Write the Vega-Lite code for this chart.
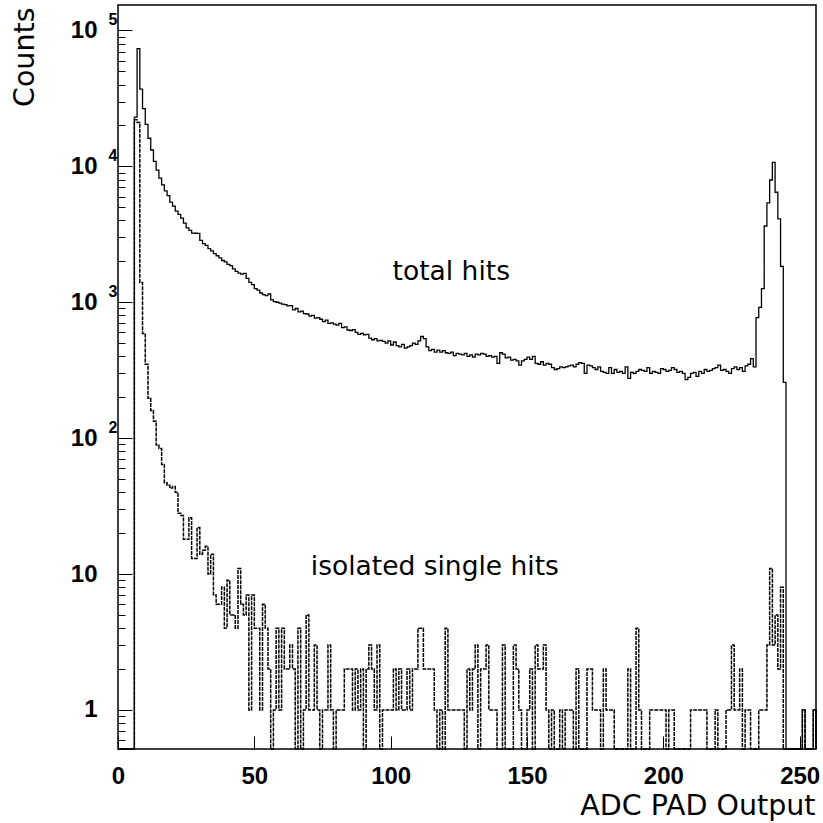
{
  "$schema": "https://vega.github.io/schema/vega-lite/v6.json",
  "width": 698,
  "height": 744,
  "autosize": "none",
  "padding": {"left": 118, "top": 5, "right": 7, "bottom": 74},
  "background": "white",
  "config": {"view": {"stroke": "black", "strokeWidth": 1.5}},
  "resolve": {"axis": {"y": "independent"}},
  "datasets": {
    "total": [
      {"bin":0,"count":0},{"bin":1,"count":0},{"bin":2,"count":0},{"bin":3,"count":0},{"bin":4,"count":0},{"bin":5,"count":0},
      {"bin":6,"count":23000},{"bin":7,"count":73500},{"bin":8,"count":37000},{"bin":9,"count":26600},{"bin":10,"count":20400},
      {"bin":11,"count":16100},{"bin":12,"count":13200},{"bin":13,"count":10900},{"bin":14,"count":9400},{"bin":15,"count":8200},
      {"bin":16,"count":7300},{"bin":17,"count":6600},{"bin":18,"count":6100},{"bin":19,"count":5450},{"bin":20,"count":5100},
      {"bin":21,"count":4680},{"bin":22,"count":4430},{"bin":23,"count":4160},{"bin":24,"count":3820},{"bin":25,"count":3530},
      {"bin":26,"count":3380},{"bin":27,"count":3230},{"bin":28,"count":3220},{"bin":29,"count":3210},{"bin":30,"count":2850},
      {"bin":31,"count":2700},{"bin":32,"count":2620},{"bin":33,"count":2480},{"bin":34,"count":2390},{"bin":35,"count":2280},
      {"bin":36,"count":2200},{"bin":37,"count":2120},{"bin":38,"count":2030},{"bin":39,"count":1980},{"bin":40,"count":1900},
      {"bin":41,"count":1860},{"bin":42,"count":1760},{"bin":43,"count":1690},{"bin":44,"count":1640},{"bin":45,"count":1610},
      {"bin":46,"count":1630},{"bin":47,"count":1500},{"bin":48,"count":1400},{"bin":49,"count":1350},{"bin":50,"count":1260},
      {"bin":51,"count":1230},{"bin":52,"count":1170},{"bin":53,"count":1140},{"bin":54,"count":1120},{"bin":55,"count":1150},
      {"bin":56,"count":1040},{"bin":57,"count":1010},{"bin":58,"count":1000},{"bin":59,"count":985},{"bin":60,"count":970},
      {"bin":61,"count":960},{"bin":62,"count":940},{"bin":63,"count":945},{"bin":64,"count":880},{"bin":65,"count":900},
      {"bin":66,"count":850},{"bin":67,"count":860},{"bin":68,"count":825},{"bin":69,"count":820},{"bin":70,"count":790},
      {"bin":71,"count":800},{"bin":72,"count":765},{"bin":73,"count":770},{"bin":74,"count":750},{"bin":75,"count":720},
      {"bin":76,"count":740},{"bin":77,"count":700},{"bin":78,"count":705},{"bin":79,"count":690},{"bin":80,"count":680},
      {"bin":81,"count":700},{"bin":82,"count":650},{"bin":83,"count":660},{"bin":84,"count":625},{"bin":85,"count":620},
      {"bin":86,"count":630},{"bin":87,"count":600},{"bin":88,"count":580},{"bin":89,"count":590},{"bin":90,"count":575},
      {"bin":91,"count":580},{"bin":92,"count":545},{"bin":93,"count":530},{"bin":94,"count":540},{"bin":95,"count":520},
      {"bin":96,"count":525},{"bin":97,"count":515},{"bin":98,"count":500},{"bin":99,"count":520},{"bin":100,"count":485},
      {"bin":101,"count":510},{"bin":102,"count":480},{"bin":103,"count":470},{"bin":104,"count":490},{"bin":105,"count":460},
      {"bin":106,"count":470},{"bin":107,"count":480},{"bin":108,"count":500},{"bin":109,"count":490},{"bin":110,"count":520},
      {"bin":111,"count":560},{"bin":112,"count":540},{"bin":113,"count":470},{"bin":114,"count":440},{"bin":115,"count":450},
      {"bin":116,"count":430},{"bin":117,"count":445},{"bin":118,"count":430},{"bin":119,"count":440},{"bin":120,"count":425},
      {"bin":121,"count":420},{"bin":122,"count":430},{"bin":123,"count":405},{"bin":124,"count":420},{"bin":125,"count":415},
      {"bin":126,"count":410},{"bin":127,"count":420},{"bin":128,"count":400},{"bin":129,"count":410},{"bin":130,"count":395},
      {"bin":131,"count":415},{"bin":132,"count":410},{"bin":133,"count":420},{"bin":134,"count":415},{"bin":135,"count":400},
      {"bin":136,"count":405},{"bin":137,"count":395},{"bin":138,"count":400},{"bin":139,"count":355},{"bin":140,"count":425},
      {"bin":141,"count":415},{"bin":142,"count":390},{"bin":143,"count":395},{"bin":144,"count":375},{"bin":145,"count":380},
      {"bin":146,"count":370},{"bin":147,"count":345},{"bin":148,"count":370},{"bin":149,"count":380},{"bin":150,"count":395},
      {"bin":151,"count":380},{"bin":152,"count":400},{"bin":153,"count":355},{"bin":154,"count":350},{"bin":155,"count":365},
      {"bin":156,"count":345},{"bin":157,"count":355},{"bin":158,"count":350},{"bin":159,"count":330},{"bin":160,"count":320},
      {"bin":161,"count":325},{"bin":162,"count":335},{"bin":163,"count":330},{"bin":164,"count":335},{"bin":165,"count":340},
      {"bin":166,"count":345},{"bin":167,"count":335},{"bin":168,"count":350},{"bin":169,"count":360},{"bin":170,"count":355},
      {"bin":171,"count":300},{"bin":172,"count":345},{"bin":173,"count":340},{"bin":174,"count":330},{"bin":175,"count":320},
      {"bin":176,"count":335},{"bin":177,"count":310},{"bin":178,"count":305},{"bin":179,"count":300},{"bin":180,"count":330},
      {"bin":181,"count":300},{"bin":182,"count":320},{"bin":183,"count":305},{"bin":184,"count":310},{"bin":185,"count":300},
      {"bin":186,"count":335},{"bin":187,"count":275},{"bin":188,"count":305},{"bin":189,"count":300},{"bin":190,"count":310},
      {"bin":191,"count":320},{"bin":192,"count":315},{"bin":193,"count":310},{"bin":194,"count":330},{"bin":195,"count":300},
      {"bin":196,"count":310},{"bin":197,"count":305},{"bin":198,"count":300},{"bin":199,"count":325},{"bin":200,"count":320},
      {"bin":201,"count":310},{"bin":202,"count":315},{"bin":203,"count":330},{"bin":204,"count":320},{"bin":205,"count":305},
      {"bin":206,"count":310},{"bin":207,"count":300},{"bin":208,"count":270},{"bin":209,"count":280},{"bin":210,"count":300},
      {"bin":211,"count":305},{"bin":212,"count":285},{"bin":213,"count":310},{"bin":214,"count":300},{"bin":215,"count":320},
      {"bin":216,"count":310},{"bin":217,"count":315},{"bin":218,"count":325},{"bin":219,"count":330},{"bin":220,"count":345},
      {"bin":221,"count":315},{"bin":222,"count":320},{"bin":223,"count":310},{"bin":224,"count":300},{"bin":225,"count":325},
      {"bin":226,"count":335},{"bin":227,"count":320},{"bin":228,"count":330},{"bin":229,"count":310},{"bin":230,"count":340},
      {"bin":231,"count":350},{"bin":232,"count":385},{"bin":233,"count":335},{"bin":234,"count":770},{"bin":235,"count":916},
      {"bin":236,"count":1260},{"bin":237,"count":3640},{"bin":238,"count":5380},{"bin":239,"count":7940},{"bin":240,"count":10700},
      {"bin":241,"count":6450},{"bin":242,"count":4110},{"bin":243,"count":1840},{"bin":244,"count":257},{"bin":245,"count":0},
      {"bin":246,"count":0},{"bin":247,"count":0},{"bin":248,"count":0},{"bin":249,"count":0},{"bin":250,"count":0},
      {"bin":251,"count":1},{"bin":252,"count":0},{"bin":253,"count":0},{"bin":254,"count":0},{"bin":255,"count":1},
      {"bin":256,"count":0}
    ],
    "single": [
      {"bin":0,"count":0},{"bin":1,"count":0},{"bin":2,"count":0},{"bin":3,"count":0},{"bin":4,"count":0},{"bin":5,"count":0},
      {"bin":6,"count":22000},{"bin":7,"count":21000},{"bin":8,"count":1400},{"bin":9,"count":590},{"bin":10,"count":350},
      {"bin":11,"count":197},{"bin":12,"count":160},{"bin":13,"count":133},{"bin":14,"count":89},{"bin":15,"count":84},
      {"bin":16,"count":64},{"bin":17,"count":47},{"bin":18,"count":45},{"bin":19,"count":43},{"bin":20,"count":44},
      {"bin":21,"count":40},{"bin":22,"count":28},{"bin":23,"count":27},{"bin":24,"count":18},{"bin":25,"count":18},
      {"bin":26,"count":26},{"bin":27,"count":13},{"bin":28,"count":13},{"bin":29,"count":22},{"bin":30,"count":14},
      {"bin":31,"count":15},{"bin":32,"count":16},{"bin":33,"count":10},{"bin":34,"count":14},{"bin":35,"count":7},
      {"bin":36,"count":6},{"bin":37,"count":6},{"bin":38,"count":8},{"bin":39,"count":4},{"bin":40,"count":9},
      {"bin":41,"count":5},{"bin":42,"count":5},{"bin":43,"count":4},{"bin":44,"count":11},{"bin":45,"count":6},
      {"bin":46,"count":5},{"bin":47,"count":7},{"bin":48,"count":1},{"bin":49,"count":7},{"bin":50,"count":4},
      {"bin":51,"count":4},{"bin":52,"count":1},{"bin":53,"count":6},{"bin":54,"count":4},{"bin":55,"count":2},
      {"bin":56,"count":0},{"bin":57,"count":1},{"bin":58,"count":4},{"bin":59,"count":1},{"bin":60,"count":4},
      {"bin":61,"count":2},{"bin":62,"count":2},{"bin":63,"count":3},{"bin":64,"count":2},{"bin":65,"count":0},
      {"bin":66,"count":4},{"bin":67,"count":0},{"bin":68,"count":1},{"bin":69,"count":5},{"bin":70,"count":1},
      {"bin":71,"count":1},{"bin":72,"count":3},{"bin":73,"count":1},{"bin":74,"count":0},{"bin":75,"count":1},
      {"bin":76,"count":1},{"bin":77,"count":3},{"bin":78,"count":1},{"bin":79,"count":0},{"bin":80,"count":1},
      {"bin":81,"count":1},{"bin":82,"count":1},{"bin":83,"count":2},{"bin":84,"count":2},{"bin":85,"count":2},
      {"bin":86,"count":1},{"bin":87,"count":2},{"bin":88,"count":1},{"bin":89,"count":2},{"bin":90,"count":0},
      {"bin":91,"count":2},{"bin":92,"count":3},{"bin":93,"count":2},{"bin":94,"count":1},{"bin":95,"count":3},
      {"bin":96,"count":0},{"bin":97,"count":1},{"bin":98,"count":1},{"bin":99,"count":1},{"bin":100,"count":1},
      {"bin":101,"count":2},{"bin":102,"count":1},{"bin":103,"count":2},{"bin":104,"count":1},{"bin":105,"count":1},
      {"bin":106,"count":2},{"bin":107,"count":1},{"bin":108,"count":2},{"bin":109,"count":2},{"bin":110,"count":4},
      {"bin":111,"count":4},{"bin":112,"count":2},{"bin":113,"count":2},{"bin":114,"count":2},{"bin":115,"count":2},
      {"bin":116,"count":1},{"bin":117,"count":0},{"bin":118,"count":1},{"bin":119,"count":0},{"bin":120,"count":4},
      {"bin":121,"count":1},{"bin":122,"count":1},{"bin":123,"count":1},{"bin":124,"count":1},{"bin":125,"count":1},
      {"bin":126,"count":1},{"bin":127,"count":0},{"bin":128,"count":2},{"bin":129,"count":1},{"bin":130,"count":2},
      {"bin":131,"count":3},{"bin":132,"count":0},{"bin":133,"count":2},{"bin":134,"count":2},{"bin":135,"count":3},
      {"bin":136,"count":1},{"bin":137,"count":1},{"bin":138,"count":1},{"bin":139,"count":0},{"bin":140,"count":0},
      {"bin":141,"count":3},{"bin":142,"count":0},{"bin":143,"count":0},{"bin":144,"count":0},{"bin":145,"count":3},
      {"bin":146,"count":2},{"bin":147,"count":1},{"bin":148,"count":0},{"bin":149,"count":0},{"bin":150,"count":1},
      {"bin":151,"count":2},{"bin":152,"count":0},{"bin":153,"count":3},{"bin":154,"count":2},{"bin":155,"count":2},
      {"bin":156,"count":3},{"bin":157,"count":1},{"bin":158,"count":0},{"bin":159,"count":1},{"bin":160,"count":0},
      {"bin":161,"count":0},{"bin":162,"count":1},{"bin":163,"count":0},{"bin":164,"count":1},{"bin":165,"count":1},
      {"bin":166,"count":1},{"bin":167,"count":0},{"bin":168,"count":2},{"bin":169,"count":0},{"bin":170,"count":0},
      {"bin":171,"count":0},{"bin":172,"count":2},{"bin":173,"count":2},{"bin":174,"count":1},{"bin":175,"count":1},
      {"bin":176,"count":1},{"bin":177,"count":0},{"bin":178,"count":2},{"bin":179,"count":1},{"bin":180,"count":1},
      {"bin":181,"count":1},{"bin":182,"count":0},{"bin":183,"count":0},{"bin":184,"count":0},{"bin":185,"count":0},
      {"bin":186,"count":0},{"bin":187,"count":2},{"bin":188,"count":0},{"bin":189,"count":0},{"bin":190,"count":4},
      {"bin":191,"count":1},{"bin":192,"count":0},{"bin":193,"count":0},{"bin":194,"count":0},{"bin":195,"count":1},
      {"bin":196,"count":1},{"bin":197,"count":1},{"bin":198,"count":1},{"bin":199,"count":1},{"bin":200,"count":1},
      {"bin":201,"count":0},{"bin":202,"count":1},{"bin":203,"count":1},{"bin":204,"count":0},{"bin":205,"count":0},
      {"bin":206,"count":0},{"bin":207,"count":0},{"bin":208,"count":0},{"bin":209,"count":0},{"bin":210,"count":1},
      {"bin":211,"count":1},{"bin":212,"count":1},{"bin":213,"count":1},{"bin":214,"count":1},{"bin":215,"count":1},
      {"bin":216,"count":0},{"bin":217,"count":0},{"bin":218,"count":0},{"bin":219,"count":1},{"bin":220,"count":0},
      {"bin":221,"count":0},{"bin":222,"count":0},{"bin":223,"count":1},{"bin":224,"count":1},{"bin":225,"count":3},
      {"bin":226,"count":1},{"bin":227,"count":1},{"bin":228,"count":2},{"bin":229,"count":0},{"bin":230,"count":1},
      {"bin":231,"count":1},{"bin":232,"count":0},{"bin":233,"count":0},{"bin":234,"count":0},{"bin":235,"count":1},
      {"bin":236,"count":1},{"bin":237,"count":1},{"bin":238,"count":3},{"bin":239,"count":11},{"bin":240,"count":3},
      {"bin":241,"count":5},{"bin":242,"count":2},{"bin":243,"count":8},{"bin":244,"count":0},{"bin":245,"count":0},
      {"bin":246,"count":0},{"bin":247,"count":0},{"bin":248,"count":0},{"bin":249,"count":0},{"bin":250,"count":0},
      {"bin":251,"count":1},{"bin":252,"count":0},{"bin":253,"count":0},{"bin":254,"count":0},{"bin":255,"count":1},
      {"bin":256,"count":0}
    ],
    "notes": [
      {"x": 100.7, "y": 1468, "text": "total hits"},
      {"x": 70.7, "y": 9.9, "text": "isolated single hits"}
    ]
  },
  "layer": [
    {
      "data": {"name": "single"},
      "mark": {"type": "line", "interpolate": "step-after", "color": "black", "strokeWidth": 1.5, "strokeDash": [4, 1], "invalid": "show"},
      "encoding": {
        "x": {
          "field": "bin", "type": "quantitative",
          "scale": {"domain": [0, 256], "nice": false, "zero": false},
          "axis": {
            "values": [0, 50, 100, 150, 200, 250],
            "tickSize": -13, "tickColor": "black", "tickWidth": 1,
            "domain": false, "grid": false,
            "labelFont": "Liberation Sans", "labelFontWeight": "bold", "labelFontSize": 24, "labelColor": "black",
            "labelPadding": 28, "labelFlush": false, "labelOverlap": false,
            "title": "ADC PAD Output", "titleFont": "DejaVu Sans", "titleFontWeight": "normal", "titleFontSize": 28.5,
            "titleColor": "black", "titleAnchor": "end", "titleAlign": "right", "titleBaseline": "alphabetic",
            "titleX": 697, "titleY": 65
          }
        },
        "y": {
          "field": "count", "type": "quantitative",
          "scale": {"type": "log", "domain": [0.516, 154000], "nice": false, "clamp": true},
          "axis": {
            "orient": "left",
            "values": [0.6, 0.7, 0.8, 0.9, 1, 2, 3, 4, 5, 6, 7, 8, 9, 10, 20, 30, 40, 50, 60, 70, 80, 90, 100, 200, 300, 400, 500, 600, 700, 800, 900, 1000, 2000, 3000, 4000, 5000, 6000, 7000, 8000, 9000, 10000, 20000, 30000, 40000, 50000, 60000, 70000, 80000, 90000, 100000],
            "tickSize": {"condition": {"test": "indexof([1,10,100,1000,10000,100000], datum.value) >= 0", "value": -14}, "value": -7},
            "tickColor": "black", "tickWidth": 1,
            "domain": false, "grid": false,
            "labelExpr": "datum.value == 1 ? '1' : indexof([10,100,1000,10000,100000], datum.value) >= 0 ? '10' : ''",
            "labelFont": "Liberation Sans", "labelFontWeight": "bold", "labelFontSize": 24, "labelColor": "black",
            "labelPadding": 35, "labelFlush": false, "labelOverlap": false,
            "title": "Counts", "titleFont": "DejaVu Sans", "titleFontWeight": "normal", "titleFontSize": 28.5,
            "titleColor": "black", "titleAngle": -90, "titleAlign": "right", "titleBaseline": "alphabetic",
            "titleAnchor": "end", "titleX": -85, "titleY": 2
          }
        }
      }
    },
    {
      "data": {"name": "total"},
      "mark": {"type": "line", "interpolate": "step-after", "color": "black", "strokeWidth": 1.3, "invalid": "show"},
      "encoding": {
        "x": {"field": "bin", "type": "quantitative"},
        "y": {
          "field": "count", "type": "quantitative",
          "axis": {
            "orient": "left",
            "values": [100, 1000, 10000, 100000],
            "ticks": false, "domain": false, "grid": false,
            "labelExpr": "datum.value == 100 ? '2' : datum.value == 1000 ? '3' : datum.value == 10000 ? '4' : '5'",
            "labelFont": "Liberation Sans", "labelFontWeight": "bold", "labelFontSize": 16, "labelColor": "black",
            "labelPadding": 1, "labelOffset": -11, "labelFlush": false, "labelOverlap": false,
            "title": null
          }
        }
      }
    },
    {
      "data": {"name": "notes"},
      "mark": {"type": "text", "align": "left", "baseline": "alphabetic", "font": "DejaVu Sans", "fontSize": 26.5, "color": "black"},
      "encoding": {
        "x": {"field": "x", "type": "quantitative"},
        "y": {"field": "y", "type": "quantitative", "axis": null},
        "text": {"field": "text"}
      }
    }
  ]
}
